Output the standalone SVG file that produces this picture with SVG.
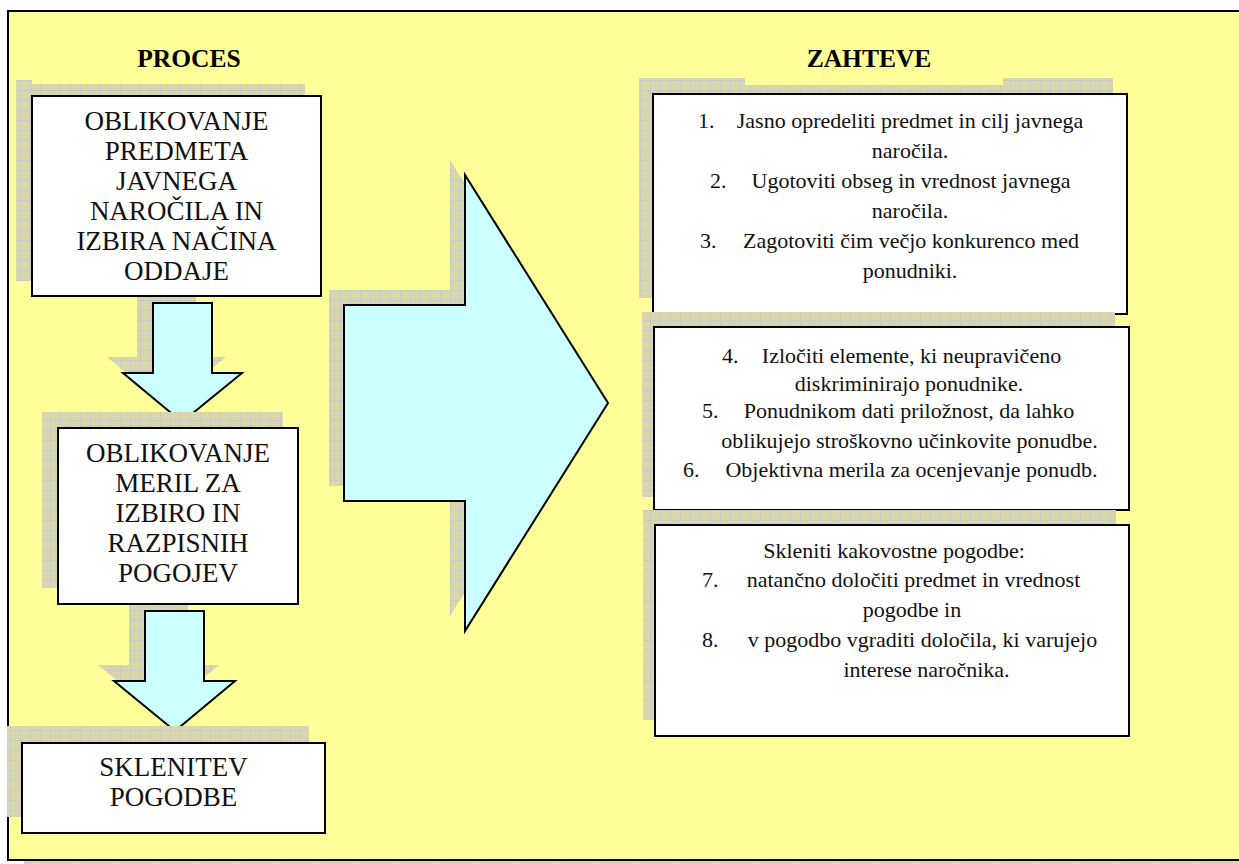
<svg xmlns="http://www.w3.org/2000/svg" width="1239" height="864" viewBox="0 0 1239 864">
  <defs>
    <!-- gridded drop-shadow texture -->
    <pattern id="grid" width="10" height="10" patternUnits="userSpaceOnUse">
      <rect width="10" height="10" fill="#d9d7a8"/>
      <path d="M0,0.5 H10 M0.5,0 V10" stroke="#c9c9c4" stroke-width="1" fill="none"/>
    </pattern>
    <style>
      .shadow { fill: url(#grid); stroke: none; }
      .box { fill: #ffffff; stroke: #000000; stroke-width: 2; }
      .arrow { fill: #ccffff; stroke: #000000; stroke-width: 2; stroke-linejoin: miter; }
      text { font-family: "Liberation Serif", "Times New Roman", serif; fill: #111111; }
      .head { font-weight: bold; font-size: 25.5px; fill: #000000; text-anchor: middle; }
      .step { font-size: 27px; text-anchor: middle; }
      .req { font-size: 22px; text-anchor: middle; }
      .num { font-size: 22px; text-anchor: start; }
    </style>
  </defs>

  <!-- page frame -->
  <rect x="0" y="0" width="1239" height="864" fill="#ffffff"/>
  <rect x="24" y="861" width="1215" height="3" class="shadow"/>
  <rect x="8" y="11" width="1240" height="849" fill="#ffff99" stroke="#000000" stroke-width="2"/>

  <!-- headings -->
  <text class="head" x="189" y="67">PROCES</text>
  <text class="head" x="869" y="67">ZAHTEVE</text>

  <!-- connectors: process arrows -->
  <g id="connectors">
    <path class="shadow" d="M137,287 H196 V357 H226 L166,406 L107,357 H137 Z"/>
    <path class="shadow" d="M129,595 H188 V665 H219 L159,715 L98,665 H129 Z"/>
    <path class="shadow" d="M329,290 H450 V160 L593,388 L450,616 V486 H329 Z"/>
    <path class="arrow" d="M153,303 H212 V373 H242 L182,422 L123,373 H153 Z"/>
    <path class="arrow" d="M145,611 H204 V681 H235 L175,731 L114,681 H145 Z"/>
    <path class="arrow" d="M344,305 H465 V175 L608,403 L465,631 V501 H344 Z"/>
  </g>

  <!-- process step 1 -->
  <g id="step1">
    <path class="shadow" d="M16,80 H32 V84 H305 V281 H16 Z"/>
    <rect class="box" x="32" y="96" width="289" height="200"/>
    <text class="step" x="176.5" y="130">OBLIKOVANJE</text>
    <text class="step" x="176.5" y="160">PREDMETA</text>
    <text class="step" x="176.5" y="190">JAVNEGA</text>
    <text class="step" x="176.5" y="220">NAROČILA IN</text>
    <text class="step" x="176.5" y="250">IZBIRA NAČINA</text>
    <text class="step" x="176.5" y="280">ODDAJE</text>
  </g>

  <!-- process step 2 -->
  <g id="step2">
    <rect class="shadow" x="42" y="412" width="241" height="176"/>
    <rect class="box" x="58" y="428" width="240" height="176"/>
    <text class="step" x="178" y="462">OBLIKOVANJE</text>
    <text class="step" x="178" y="492">MERIL ZA</text>
    <text class="step" x="178" y="522">IZBIRO IN</text>
    <text class="step" x="178" y="552">RAZPISNIH</text>
    <text class="step" x="178" y="582">POGOJEV</text>
  </g>

  <!-- process step 3 -->
  <g id="step3">
    <rect class="shadow" x="7" y="726" width="302" height="91"/>
    <rect class="box" x="22" y="743" width="303" height="90"/>
    <text class="step" x="173.5" y="776">SKLENITEV</text>
    <text class="step" x="173.5" y="806">POGODBE</text>
  </g>

  <!-- requirements 1-3 -->
  <g id="req1">
    <path class="shadow" d="M639,78 H745 V85 H1003 V78 H1113 V298 H639 Z"/>
    <rect class="box" x="653" y="94" width="474" height="220"/>
    <text class="num" x="698" y="128">1.</text>
    <text class="req" x="910" y="128">Jasno opredeliti predmet in cilj javnega</text>
    <text class="req" x="910" y="158">naročila.</text>
    <text class="num" x="710" y="188">2.</text>
    <text class="req" x="911" y="188">Ugotoviti obseg in vrednost javnega</text>
    <text class="req" x="910" y="218">naročila.</text>
    <text class="num" x="700" y="248">3.</text>
    <text class="req" x="911" y="248">Zagotoviti čim večjo konkurenco med</text>
    <text class="req" x="910" y="278">ponudniki.</text>
  </g>

  <!-- requirements 4-6 -->
  <g id="req2">
    <rect class="shadow" x="642" y="312" width="473" height="185"/>
    <rect class="box" x="654" y="327" width="475" height="183"/>
    <text class="num" x="722" y="363">4.</text>
    <text class="req" x="911.5" y="363">Izločiti elemente, ki neupravičeno</text>
    <text class="req" x="909" y="391">diskriminirajo ponudnike.</text>
    <text class="num" x="702" y="418">5.</text>
    <text class="req" x="909" y="418">Ponudnikom dati priložnost, da lahko</text>
    <text class="req" x="909.5" y="448">oblikujejo stroškovno učinkovite ponudbe.</text>
    <text class="num" x="683" y="477">6.</text>
    <text class="req" x="911.5" y="477">Objektivna merila za ocenjevanje ponudb.</text>
  </g>

  <!-- requirements 7-8 -->
  <g id="req3">
    <rect class="shadow" x="643" y="510" width="473" height="210"/>
    <rect class="box" x="655" y="525" width="474" height="211"/>
    <text class="req" x="894" y="558">Skleniti kakovostne pogodbe:</text>
    <text class="num" x="702" y="587">7.</text>
    <text class="req" x="913.5" y="587">natančno določiti predmet in vrednost</text>
    <text class="req" x="912" y="617">pogodbe in</text>
    <text class="num" x="702" y="647">8.</text>
    <text class="req" x="922.5" y="647">v pogodbo vgraditi določila, ki varujejo</text>
    <text class="req" x="926.5" y="677">interese naročnika.</text>
  </g>
</svg>
